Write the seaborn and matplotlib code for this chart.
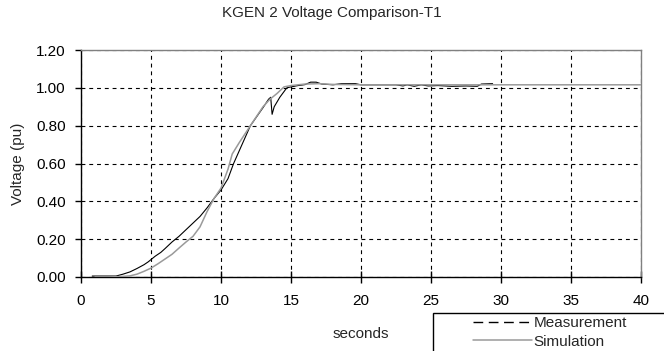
import numpy as np
import pandas as pd
import matplotlib
matplotlib.use("Agg")
import matplotlib.pyplot as plt
from matplotlib.lines import Line2D
from matplotlib.patches import Rectangle
import seaborn as sns

# Recorded terminal voltage during run-up
meas_t = [0.8, 2.5, 3.0, 3.5, 4.0, 4.5, 4.8, 5.0, 5.3, 5.7, 6.0, 6.5, 7.0, 7.5, 8.0,
          8.5, 9.0, 9.5, 10.0, 10.5, 10.9, 11.5, 12.1, 13.0, 13.4, 13.55, 13.65, 13.8,
          14.2, 14.7, 15.0, 15.5, 16.0, 16.4, 16.8, 17.2, 18.0, 18.6, 19.6, 20.0, 22.5,
          23.0, 23.3, 23.8, 24.3, 24.8, 25.5, 26.5, 27.5, 28.3, 28.6, 29.4]
meas_v = [0.005, 0.005, 0.015, 0.027, 0.045, 0.065, 0.08, 0.092, 0.11, 0.13, 0.15, 0.185,
          0.215, 0.25, 0.285, 0.32, 0.365, 0.415, 0.46, 0.52, 0.60, 0.70, 0.80, 0.895,
          0.94, 0.95, 0.86, 0.90, 0.95, 1.00, 1.005, 1.012, 1.017, 1.03, 1.03, 1.02,
          1.016, 1.022, 1.022, 1.016, 1.016, 1.01, 1.016, 1.008, 1.016, 1.01, 1.012,
          1.008, 1.01, 1.008, 1.02, 1.022]

# Simulated terminal voltage
sim_t = [1.0, 2.0, 3.0, 3.5, 4.0, 4.5, 5.0, 5.5, 6.0, 6.5, 7.0, 7.5, 8.0, 8.5, 9.0, 9.5,
         10.0, 10.5, 10.8, 11.3, 12.1, 13.0, 13.5, 14.0, 14.5, 15.0, 16.0, 17.0, 18.0,
         20.0, 25.0, 30.0, 35.0, 40.0]
sim_v = [0.0, 0.0, 0.003, 0.006, 0.015, 0.03, 0.047, 0.07, 0.095, 0.12, 0.153, 0.185,
         0.215, 0.265, 0.345, 0.415, 0.47, 0.57, 0.65, 0.71, 0.80, 0.90, 0.94, 0.97,
         1.005, 1.012, 1.02, 1.022, 1.018, 1.016, 1.016, 1.016, 1.016, 1.016]

x_ticks = [0, 5, 10, 15, 20, 25, 30, 35, 40]
y_ticks = [0.0, 0.2, 0.4, 0.6, 0.8, 1.0, 1.2]

FS = 11

sns.set_style("white")
plt.rcParams["font.family"] = ["Liberation Sans", "DejaVu Sans"]

fig = plt.figure(figsize=(6.64, 3.51), dpi=100)
ax = fig.add_axes([81 / 664, 1 - 277 / 351, 560 / 664, 227 / 351])

meas = pd.DataFrame({"t": meas_t, "v": meas_v})
sim = pd.DataFrame({"t": sim_t, "v": sim_v})

sns.lineplot(data=meas, x="t", y="v", ax=ax, color="black", lw=0.8,
             estimator=None, sort=False, zorder=3)
sns.lineplot(data=sim, x="t", y="v", ax=ax, color="#9a9a9a", lw=1.1,
             estimator=None, sort=False, zorder=4)

ax.set_xlim(0, 40)
ax.set_ylim(0, 1.2)
ax.set_xticks(x_ticks)
ax.set_xticklabels([str(v) for v in x_ticks])
ax.set_yticks(y_ticks)
ax.set_yticklabels([f"{v:.2f}" for v in y_ticks])
ax.tick_params(axis="both", width=1, color="black", labelsize=FS, labelcolor="black")
ax.tick_params(axis="x", direction="inout", length=8, pad=8.5, bottom=True)
ax.tick_params(axis="y", direction="out", length=4, pad=7, left=True)

ax.grid(True, color="black", linestyle=(0, (3.5, 3.5)), linewidth=0.8)
ax.set_axisbelow(True)

for side in ("left", "bottom"):
    ax.spines[side].set_color("black")
    ax.spines[side].set_linewidth(1.0)
for side in ("top", "right"):
    ax.spines[side].set_color("#808080")
    ax.spines[side].set_linewidth(1.0)

ax.set_xlabel("seconds", fontsize=FS, labelpad=13.5)
ax.set_ylabel("Voltage (pu)", fontsize=FS, labelpad=8)

fig.suptitle("KGEN 2 Voltage Comparison-T1", fontsize=FS, x=0.5, y=1 - 13 / 351, va="center")

# legend frame in the lower right corner
box = Rectangle((433 / 664, -0.05), 0.5, 0.05 + 38 / 351, transform=fig.transFigure,
                facecolor="white", edgecolor="black", lw=1.0, zorder=5)
fig.patches.append(box)

handles = [Line2D([], [], color="black", lw=1.0, linestyle=(0, (7, 4))),
           Line2D([], [], color="#9a9a9a", lw=1.1)]
leg = fig.legend(handles, ["Measurement", "Simulation"], loc="upper left",
                 bbox_to_anchor=(473 / 664, 1 - 316 / 351), frameon=False,
                 fontsize=FS, handlelength=3.85, handletextpad=0.1, labelspacing=0.3,
                 borderpad=0.0, borderaxespad=0.0)
leg.set_zorder(6)

fig.savefig("out.png", dpi=100)
